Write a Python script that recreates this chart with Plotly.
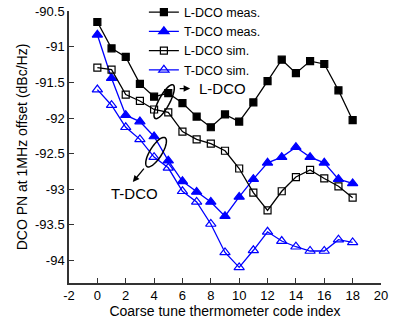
import numpy as np
import plotly.graph_objects as go

code_index = list(range(19))
l_dco_meas = [-90.65, -91.02, -91.14, -91.52, -91.70, -91.65, -91.79, -91.98, -92.13, -91.95,
              -92.05, -91.78, -91.48, -91.18, -91.37, -91.20, -91.24, -91.61, -92.03]
t_dco_meas = [-90.83, -91.44, -91.96, -92.05, -92.26, -92.60, -92.89, -93.04, -93.18, -93.38,
              -93.11, -92.86, -92.63, -92.55, -92.41, -92.55, -92.63, -92.86, -92.92]
l_dco_sim = [-91.29, -91.32, -91.67, -91.76, -91.88, -91.92, -92.19, -92.30, -92.36, -92.46,
             -92.71, -93.05, -93.30, -93.03, -92.83, -92.73, -92.85, -92.96, -93.12]
t_dco_sim = [-91.60, -91.82, -92.13, -92.30, -92.55, -92.70, -93.03, -93.18, -93.49, -93.89,
             -94.10, -93.86, -93.60, -93.73, -93.81, -93.87, -93.87, -93.71, -93.75]

x_ticks = list(range(-2, 21, 2))
y_ticks = [-94, -93.5, -93, -92.5, -92, -91.5, -91, -90.5]

FONT = "Liberation Sans, Arial, sans-serif"
BLUE = "#0000ff"

W, H = 394, 328
ML, MR, MT, MB = 69, 13, 11, 45
XR = [-2, 20]
YR = [-94.32, -90.495]
pxx = (W - ML - MR) / (XR[1] - XR[0])
pxy = (H - MT - MB) / (YR[1] - YR[0])

fig = go.Figure()
series = [
    ("L-DCO meas.", l_dco_meas, "black", "square", 7),
    ("T-DCO meas.", t_dco_meas, BLUE, "triangle-up", 9),
    ("L-DCO sim.", l_dco_sim, "black", "square-open", 7),
    ("T-DCO sim.", t_dco_sim, BLUE, "triangle-up-open", 9),
]
for name, ys, col, sym, sz in series:
    fig.add_trace(go.Scatter(
        x=code_index, y=ys, name=name, mode="lines+markers",
        line=dict(color=col, width=1.3),
        marker=dict(symbol=sym, size=sz, color=col, line=dict(color=col, width=1.2)),
    ))


def ellipse_path(cx, cy, a_px, b_px, ang_deg, n=60):
    t = np.linspace(0, 2 * np.pi, n)
    th = np.deg2rad(ang_deg)
    dx = a_px * np.cos(t) * np.cos(th) - b_px * np.sin(t) * np.sin(th)
    dy = a_px * np.cos(t) * np.sin(th) + b_px * np.sin(t) * np.cos(th)
    xs = cx + dx / pxx
    ys = cy + dy / pxy
    p = "M" + " L".join(f"{x:.4f},{y:.4f}" for x, y in zip(xs, ys)) + " Z"
    return p


ellipses = [(4.71, -91.77, 19, 5.5, 62), (4.14, -92.48, 17, 6, 58)]
for cx, cy, a, b, ang in ellipses:
    fig.add_shape(type="path", path=ellipse_path(cx, cy, a, b, ang), xref="x", yref="y",
                  line=dict(color="black", width=1.5))

fig.add_annotation(x=6.54, y=-91.586, ax=5.70, ay=-91.586, xref="x", yref="y",
                   axref="x", ayref="y", text="", showarrow=True, arrowhead=2,
                   arrowsize=1, arrowwidth=1.3, arrowcolor="black")
fig.add_annotation(x=8.80, y=-91.59, xref="x", yref="y", text="L-DCO", showarrow=False,
                   font=dict(family=FONT, size=15, color="black"))
fig.add_annotation(x=2.50, y=-92.90, ax=3.37, ay=-92.69, xref="x", yref="y",
                   axref="x", ayref="y", text="", showarrow=True, arrowhead=2,
                   arrowsize=1, arrowwidth=1.3, arrowcolor="black")
fig.add_annotation(x=2.59, y=-93.06, xref="x", yref="y", text="T-DCO", showarrow=False,
                   font=dict(family=FONT, size=15, color="black"))

axis_common = dict(showgrid=False, zeroline=False, showline=True, linecolor="#333",
                   linewidth=1.5, ticks="inside", ticklen=5, tickwidth=1.2, tickcolor="#333",
                   tickfont=dict(family=FONT, size=13, color="black"), mirror=False,
                   ticklabeloverflow="allow")
fig.update_xaxes(range=XR, tickvals=x_ticks, ticktext=[str(v) for v in x_ticks],
                 title=dict(text="Coarse tune thermometer code index",
                            font=dict(family=FONT, size=14, color="black"), standoff=4),
                 **axis_common)
fig.update_yaxes(range=YR, tickvals=y_ticks, ticktext=[f"{v:g}" for v in y_ticks],
                 title=dict(text="DCO PN at 1MHz offset (dBc/Hz)",
                            font=dict(family=FONT, size=14, color="black"), standoff=4),
                 **axis_common)

fig.update_layout(
    width=W, height=H, margin=dict(l=ML, r=MR, t=MT, b=MB, autoexpand=False),
    paper_bgcolor="white", plot_bgcolor="white",
    font=dict(family=FONT, color="black"),
    legend=dict(x=0.24, y=1.05, xanchor="left", yanchor="top", bgcolor="rgba(0,0,0,0)",
                borderwidth=0, font=dict(family=FONT, size=12.5, color="black"),
                tracegroupgap=0, itemwidth=30),
    showlegend=True,
)

fig.write_html("out.html", config={"displayModeBar": False},
               post_script="document.body.style.margin='0';document.body.style.padding='0';")
